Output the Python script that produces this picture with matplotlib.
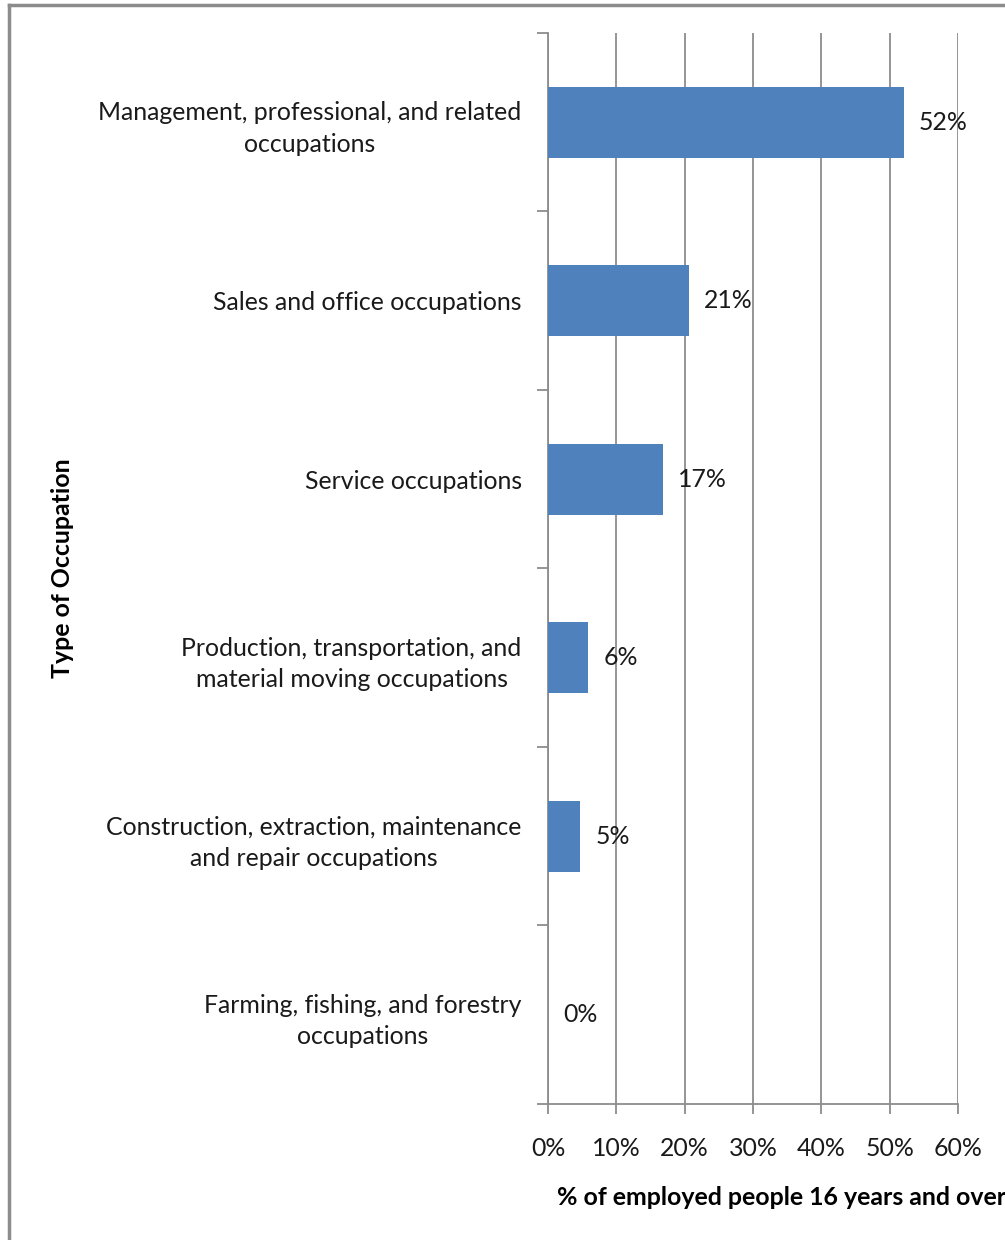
import numpy as np
import matplotlib
matplotlib.use('Agg')
import matplotlib.pyplot as plt
from matplotlib.lines import Line2D
from matplotlib.ticker import FixedLocator, FuncFormatter

occupations = [
    'Management, professional, and related\noccupations',
    'Sales and office occupations',
    'Service occupations',
    'Production, transportation, and\nmaterial moving occupations',
    'Construction, extraction, maintenance\nand repair occupations',
    'Farming, fishing, and forestry\noccupations',
]
pct_employed = [52.1, 20.6, 16.8, 5.9, 4.7, 0.0]
x_ticks = [0, 10, 20, 30, 40, 50, 60]

bar_color = '#4f81bd'
grid_color = '#8c8c8c'
fs = 17.9
plt.rcParams['font.family'] = ['Lato', 'DejaVu Sans']

fig = plt.figure(figsize=(10.05, 12.4), dpi=100)
ax = fig.add_axes([0.5453, 0.10968, 0.4080, 0.86371])

n = len(occupations)
y = np.arange(n)
ax.barh(y, pct_employed, height=0.4, color=bar_color, zorder=3)
ax.set_ylim(n - 0.5, -0.5)
ax.set_xlim(0, 60)

# value labels just right of each bar
for yi, v in zip(y, pct_employed):
    ax.text(v + 2.2, yi, '%.0f%%' % v, va='center', ha='left',
            fontsize=fs, color='#1a1a1a', zorder=4)

# vertical gridlines
ax.set_xticks(x_ticks)
ax.xaxis.set_major_formatter(FuncFormatter(lambda v, p: '%d%%' % v))
ax.grid(axis='x', color=grid_color, lw=1.3, zorder=0)
ax.tick_params(axis='x', direction='out', length=7, width=1.3, color=grid_color,
               pad=17, labelsize=fs, labelcolor='#1a1a1a')

# category labels centred on bars, ticks between categories
ax.set_yticks(y)
ax.set_yticklabels(occupations, multialignment='center', linespacing=1.45)
ax.yaxis.set_minor_locator(FixedLocator(np.arange(n + 1) - 0.5))
ax.tick_params(axis='y', which='major', length=0, pad=19, labelsize=fs,
               labelcolor='#1a1a1a')
ax.tick_params(axis='y', which='minor', direction='out', length=8, width=1.3,
               color=grid_color)

for side in ['top', 'right']:
    ax.spines[side].set_visible(False)
for side in ['left', 'bottom']:
    ax.spines[side].set_color(grid_color)
    ax.spines[side].set_linewidth(1.3)

fig.text(0.0617, 0.5417, 'Type of Occupation', rotation=90, ha='center',
         va='center', fontsize=fs, fontweight='bold')
fig.text(0.7776, 0.0339, '% of employed people 16 years and over', ha='center',
         va='center', fontsize=fs, fontweight='bold')

# frame around the chart area
fig.add_artist(Line2D([0.0085, 0.0085], [0.0, 0.9960], transform=fig.transFigure,
                      color=grid_color, lw=2.5))
fig.add_artist(Line2D([0.0085, 1.0], [0.9960, 0.9960], transform=fig.transFigure,
                      color=grid_color, lw=2.5))

fig.savefig('out.png', dpi=100)
